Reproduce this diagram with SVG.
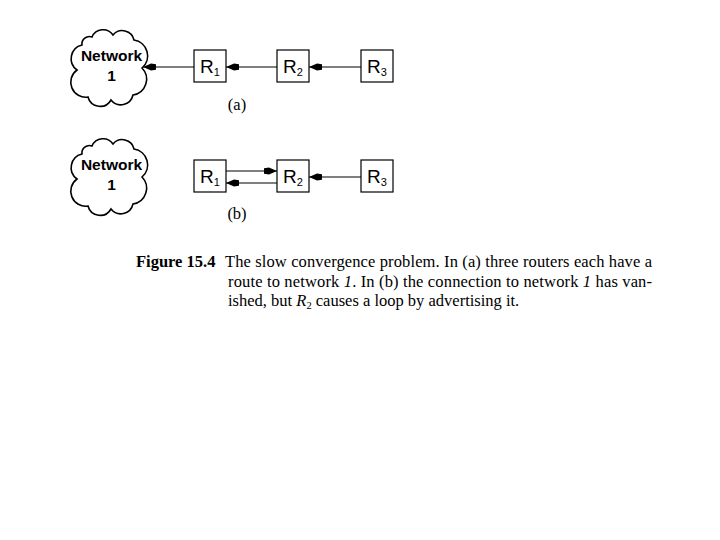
<svg xmlns="http://www.w3.org/2000/svg" width="720" height="540" viewBox="0 0 720 540">
<style>
.cloud{fill:#fff;stroke:#000;stroke-width:1.6}
.box{fill:#fff;stroke:#000;stroke-width:1.2}
.lbl{font-family:"Liberation Sans",Arial,sans-serif;font-size:19px;fill:#000}
.net{font-family:"Liberation Sans",Arial,sans-serif;font-size:15.5px;font-weight:bold;fill:#000}
.edge{stroke:#000;stroke-width:1.1;fill:none;marker-end:url(#ah)}
.ser{font-family:"Liberation Serif","Times New Roman",serif;font-size:16.5px;fill:#000}
</style>
<defs>
<marker id="ah" viewBox="0 0 13 8" refX="13" refY="4" markerWidth="13" markerHeight="8" markerUnits="userSpaceOnUse" orient="auto">
<path d="M13,4 L5,0.6 L0,1.2 L0,6.8 L5,7.4 Z" fill="#000"/>
</marker>
<path id="cl" d="M92,37 A12,12 0 0 1 113,35 A12,12 0 0 1 134,40 A16,16 0 0 1 142,68 A16,16 0 0 1 133,95 A12.5,12.5 0 0 1 111,100 A12.5,12.5 0 0 1 88,97 A15,15 0 0 1 77,70 A14,14 0 0 1 82,45 A7.5,7.5 0 0 1 92,37 Z"/>
</defs>
<g id="network1-a">
<use href="#cl" class="cloud"/>
<text class="net" x="111.5" y="61" text-anchor="middle">Network</text>
<text class="net" x="111.5" y="81" text-anchor="middle">1</text>
</g>
<g id="r1-a"><rect class="box" x="194" y="50" width="32" height="32"/><text class="lbl" x="200" y="73">R<tspan font-size="11" dy="3">1</tspan></text></g>
<g id="r2-a"><rect class="box" x="277" y="50" width="32" height="32"/><text class="lbl" x="283" y="73">R<tspan font-size="11" dy="3">2</tspan></text></g>
<g id="r3-a"><rect class="box" x="361" y="50" width="32" height="32"/><text class="lbl" x="367" y="73">R<tspan font-size="11" dy="3">3</tspan></text></g>
<text class="ser" x="237" y="110" text-anchor="middle" font-size="16">(a)</text>

<g id="network1-b">
<use href="#cl" class="cloud" transform="translate(0,109)"/>
<text class="net" x="111.5" y="170" text-anchor="middle">Network</text>
<text class="net" x="111.5" y="190" text-anchor="middle">1</text>
</g>
<g id="r1-b"><rect class="box" x="194" y="160" width="32" height="32"/><text class="lbl" x="200" y="183">R<tspan font-size="11" dy="3">1</tspan></text></g>
<g id="r2-b"><rect class="box" x="277" y="160" width="32" height="32"/><text class="lbl" x="283" y="183">R<tspan font-size="11" dy="3">2</tspan></text></g>
<g id="r3-b"><rect class="box" x="361" y="160" width="32" height="32"/><text class="lbl" x="367" y="183">R<tspan font-size="11" dy="3">3</tspan></text></g>
<text class="ser" x="237" y="219" text-anchor="middle" font-size="16">(b)</text>

<g id="connectors">
<line class="edge" x1="194" y1="67" x2="143" y2="67"/>
<line class="edge" x1="277" y1="67" x2="226" y2="67"/>
<line class="edge" x1="361" y1="67" x2="309" y2="67"/>
<line class="edge" x1="226" y1="171" x2="277" y2="171"/>
<line class="edge" x1="277" y1="183" x2="226" y2="183"/>
<line class="edge" x1="361" y1="177" x2="309" y2="177"/>
</g>

<g id="caption">
<text class="ser" x="136" y="267" font-weight="bold" font-size="17">Figure 15.4</text>
<text class="ser" x="225" y="267" textLength="427" lengthAdjust="spacing">The slow convergence problem.  In (a) three routers each have a</text>
<text class="ser" x="228" y="287" textLength="424" lengthAdjust="spacing">route to network <tspan font-style="italic">1</tspan>.  In (b) the connection to network <tspan font-style="italic">1</tspan> has van-</text>
<text class="ser" x="228" y="306">ished, but <tspan font-style="italic">R</tspan><tspan font-size="10.5" dy="3">2</tspan><tspan dy="-3"> causes a loop by advertising it.</tspan></text>
</g>
</svg>
